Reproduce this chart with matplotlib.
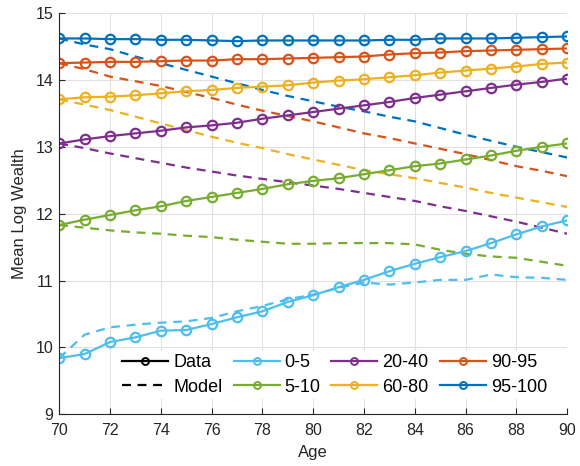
import matplotlib
matplotlib.use("Agg")
import matplotlib.pyplot as plt
from matplotlib.lines import Line2D

plt.rcParams["font.family"] = ["Liberation Sans", "DejaVu Sans"]

ages = list(range(70, 91))

groups = ["0-5", "5-10", "20-40", "60-80", "90-95", "95-100"]
colors = ["#4DBEEE", "#77AC30", "#7E2F8E", "#EDB120", "#D95319", "#0072BD"]

# observed mean log wealth by wealth percentile group
data_0_5 = [9.84, 9.90, 10.08, 10.15, 10.25, 10.26, 10.35, 10.45, 10.54, 10.68, 10.78,
            10.90, 11.01, 11.14, 11.25, 11.35, 11.44, 11.56, 11.69, 11.81, 11.90]
data_5_10 = [11.83, 11.91, 11.98, 12.05, 12.11, 12.19, 12.25, 12.31, 12.37, 12.44, 12.49,
             12.53, 12.59, 12.65, 12.71, 12.75, 12.81, 12.87, 12.94, 13.00, 13.05]
data_20_40 = [13.05, 13.11, 13.16, 13.20, 13.24, 13.29, 13.32, 13.36, 13.42, 13.47, 13.52,
              13.57, 13.62, 13.67, 13.73, 13.78, 13.83, 13.88, 13.93, 13.97, 14.02]
data_60_80 = [13.71, 13.74, 13.75, 13.77, 13.80, 13.83, 13.85, 13.88, 13.90, 13.92, 13.96,
              13.99, 14.01, 14.04, 14.07, 14.11, 14.14, 14.17, 14.20, 14.24, 14.26]
data_90_95 = [14.25, 14.26, 14.27, 14.27, 14.28, 14.29, 14.29, 14.31, 14.31, 14.32, 14.33,
              14.34, 14.35, 14.38, 14.40, 14.41, 14.43, 14.44, 14.45, 14.46, 14.47]
data_95_100 = [14.62, 14.62, 14.61, 14.61, 14.60, 14.60, 14.59, 14.58, 14.59, 14.59, 14.59,
               14.59, 14.59, 14.60, 14.60, 14.62, 14.62, 14.62, 14.63, 14.64, 14.65]

# model-implied mean log wealth
model_0_5 = [9.84, 10.19, 10.30, 10.34, 10.37, 10.39, 10.44, 10.54, 10.62, 10.72, 10.79,
             10.89, 10.97, 10.94, 10.97, 11.01, 11.01, 11.09, 11.05, 11.04, 11.01]
model_5_10 = [11.83, 11.79, 11.75, 11.72, 11.70, 11.67, 11.65, 11.61, 11.58, 11.55, 11.55,
              11.56, 11.56, 11.56, 11.54, 11.46, 11.40, 11.36, 11.34, 11.28, 11.22]
model_20_40 = [13.05, 12.98, 12.90, 12.83, 12.76, 12.69, 12.63, 12.57, 12.52, 12.47, 12.42,
               12.37, 12.31, 12.25, 12.19, 12.11, 12.04, 11.96, 11.88, 11.79, 11.70]
model_60_80 = [13.71, 13.63, 13.55, 13.45, 13.35, 13.25, 13.15, 13.06, 12.98, 12.89, 12.81,
               12.73, 12.65, 12.59, 12.53, 12.46, 12.39, 12.31, 12.24, 12.17, 12.10]
model_90_95 = [14.25, 14.16, 14.05, 13.98, 13.91, 13.82, 13.73, 13.63, 13.54, 13.46, 13.38,
               13.29, 13.20, 13.13, 13.05, 12.97, 12.89, 12.80, 12.71, 12.64, 12.56]
model_95_100 = [14.62, 14.53, 14.46, 14.35, 14.25, 14.15, 14.05, 13.95, 13.85, 13.76, 13.68,
                13.60, 13.53, 13.45, 13.38, 13.28, 13.18, 13.09, 13.00, 12.92, 12.84]

data_series = [data_0_5, data_5_10, data_20_40, data_60_80, data_90_95, data_95_100]
model_series = [model_0_5, model_5_10, model_20_40, model_60_80, model_90_95, model_95_100]


def main() -> None:
    fig = plt.figure(figsize=(5.8, 4.66), dpi=100)
    ax = fig.add_axes([0.102, 0.111, 0.876, 0.861])

    dash = (0, (4, 3))

    for color, model in zip(colors, model_series):
        ax.plot(ages, model, linestyle=dash, color=color, linewidth=1.6)

    for color, data in zip(colors, data_series):
        ax.plot(
            ages,
            data,
            color=color,
            linewidth=1.6,
            marker="o",
            markersize=6.8,
            markerfacecolor="none",
            markeredgewidth=1.6,
        )

    ax.set_xlim(70, 90)
    ax.set_ylim(9, 15)
    ax.set_xticks(range(70, 91, 2))
    ax.set_yticks(range(9, 16))
    ax.grid(True, color="#E1E1E1", linewidth=0.8)
    ax.set_axisbelow(True)
    for side in ["top", "right"]:
        ax.spines[side].set_visible(False)
    for side in ["left", "bottom"]:
        ax.spines[side].set_color("#262626")
        ax.spines[side].set_linewidth(0.8)
    ax.tick_params(direction="in", length=4, colors="#262626", labelsize=11.5)
    ax.tick_params(axis="x", pad=6)
    ax.tick_params(axis="y", pad=4)
    ax.set_xlabel("Age", fontsize=12, color="#262626", labelpad=5)
    ax.set_ylabel("Mean Log Wealth", fontsize=12, color="#262626", labelpad=6)

    handles = [
        Line2D([], [], color="black", linewidth=1.6, marker="o", markersize=5,
               markerfacecolor="none", markeredgewidth=1.4),
        Line2D([], [], color="black", linewidth=1.6, linestyle=dash),
    ]
    for color in colors:
        handles.append(
            Line2D([], [], color=color, linewidth=1.6, marker="o", markersize=5,
                   markerfacecolor="none", markeredgewidth=1.4)
        )
    labels = ["Data", "Model"] + groups

    ax.legend(
        handles,
        labels,
        ncol=4,
        loc="lower right",
        bbox_to_anchor=(0.985, 0.015),
        fontsize=13,
        frameon=True,
        facecolor="white",
        edgecolor="none",
        framealpha=1.0,
        handlelength=2.55,
        handletextpad=0.28,
        columnspacing=0.6,
        labelspacing=0.4,
        borderpad=0.2,
        numpoints=1,
    )

    fig.savefig("out.png", dpi=100)
    plt.close(fig)


if __name__ == "__main__":
    main()
